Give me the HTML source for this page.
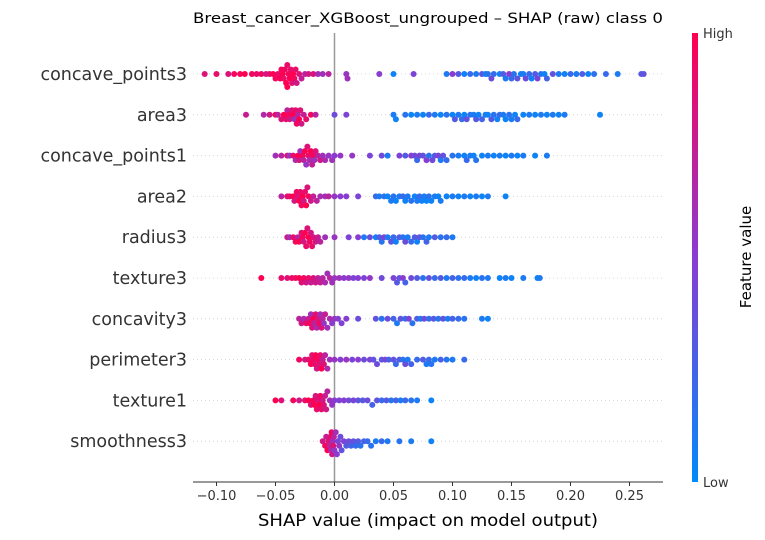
<!DOCTYPE html>
<html><head><meta charset="utf-8">
<style>
body{margin:0;background:#fff;}
svg{display:block;font-family:"DejaVu Sans","Liberation Sans",sans-serif;}
</style></head>
<body>
<svg id="chart" width="765" height="540" viewBox="0 0 765 540">
<defs>
<linearGradient id="cbg" x1="0" y1="1" x2="0" y2="0">
<stop offset="0" stop-color="#008afb"/>
<stop offset="0.5" stop-color="#8a3cd2"/>
<stop offset="1" stop-color="#ff0051"/>
</linearGradient>
</defs>
<text x="428" y="23" text-anchor="middle" font-size="14" fill="#000" textLength="470" lengthAdjust="spacingAndGlyphs">Breast_cancer_XGBoost_ungrouped – SHAP (raw) class 0</text>
<g id="grid"></g>
<line x1="334.5" y1="33" x2="334.5" y2="482" stroke="#999" stroke-width="1.5"/>
<g id="dots"></g>
<g id="labels"></g>
<line x1="193" y1="482" x2="663" y2="482" stroke="#333" stroke-width="1"/>
<g id="ticks"></g>
<text x="428" y="526" text-anchor="middle" font-size="17" fill="#000" textLength="340" lengthAdjust="spacingAndGlyphs">SHAP value (impact on model output)</text>
<rect x="692" y="33" width="6" height="449" fill="url(#cbg)"/>
<text x="703" y="38" font-size="13" fill="#333">High</text>
<text x="703" y="487" font-size="13" fill="#333">Low</text>
<text transform="translate(751,257) rotate(-90)" text-anchor="middle" font-size="15" fill="#000">Feature value</text>
</svg>
<script>
const features = ["concave_points3","area3","concave_points1","area2","radius3","texture3","concavity3","perimeter3","texture1","smoothness3"];
const tickValues = [-0.10,-0.05,0.00,0.05,0.10,0.15,0.20,0.25];
const tickLabels = ["\u22120.10","\u22120.05","0.00","0.05","0.10","0.15","0.20","0.25"];
const shap0 = [-0.11,-0.10,-0.09,-0.085,-0.08,-0.076,-0.07,-0.066,-0.062,-0.058,-0.055,-0.052,-0.05,-0.048,-0.046,-0.045,-0.044,-0.043,-0.042,-0.041,-0.04,-0.04,-0.039,-0.038,-0.037,-0.036,-0.035,-0.034,-0.033,-0.032,-0.03,-0.028,-0.025,-0.022,-0.018,-0.014,-0.01,-0.005,0.01,0.011,0.038,0.05,0.067,0.095,0.1,0.105,0.11,0.115,0.12,0.125,0.128,0.13,0.133,0.135,0.14,0.143,0.145,0.148,0.15,0.152,0.155,0.158,0.16,0.162,0.165,0.167,0.17,0.172,0.175,0.178,0.18,0.185,0.19,0.195,0.2,0.205,0.21,0.215,0.22,0.23,0.24,0.26,0.262];
const feat0 = [0.85,0.9,0.85,0.95,0.95,1,0.95,0.9,0.95,0.8,0.9,1,0.95,0.9,1,0.95,1,0.9,0.95,1,0.9,1,0.95,1,0.9,0.85,1,0.95,0.9,0.8,0.85,0.75,0.7,0.8,0.85,0.6,0.6,0.7,0.55,0.6,0.5,0.05,0.45,0.1,0.5,0.3,0.05,0.2,0.1,0.35,0.05,0.15,0.4,0.2,0.05,0.3,0.1,0.5,0.2,0.15,0.35,0.05,0.1,0.4,0.2,0.05,0.3,0.45,0.15,0.05,0.25,0.35,0.1,0.05,0.2,0.1,0.3,0.05,0.15,0.2,0.1,0.3,0.35];
const shap1 = [-0.075,-0.06,-0.055,-0.05,-0.048,-0.045,-0.043,-0.041,-0.04,-0.039,-0.038,-0.036,-0.035,-0.034,-0.033,-0.032,-0.031,-0.03,-0.029,-0.028,-0.026,-0.024,-0.02,-0.016,0.0,0.01,0.05,0.052,0.06,0.065,0.07,0.075,0.08,0.085,0.09,0.095,0.1,0.102,0.105,0.108,0.11,0.112,0.115,0.118,0.12,0.122,0.125,0.128,0.13,0.133,0.135,0.138,0.14,0.143,0.145,0.148,0.15,0.153,0.155,0.16,0.165,0.17,0.175,0.18,0.185,0.19,0.195,0.225];
const feat1 = [0.75,0.65,0.8,0.95,0.7,0.85,1,0.9,0.7,0.95,0.8,0.85,1,0.6,0.9,0.95,0.7,1,0.85,0.8,0.75,0.9,0.95,0.7,0.4,0.45,0.1,0.05,0.15,0.05,0.1,0.05,0.2,0.1,0.05,0.15,0.05,0.3,0.1,0.2,0.05,0.35,0.15,0.1,0.3,0.05,0.25,0.1,0.05,0.3,0.15,0.05,0.2,0.1,0.05,0.15,0.1,0.05,0.2,0.05,0.1,0.05,0.1,0.05,0.1,0.05,0.1,0.05];
const shap2 = [-0.05,-0.045,-0.04,-0.038,-0.035,-0.033,-0.031,-0.03,-0.029,-0.027,-0.026,-0.025,-0.024,-0.023,-0.022,-0.021,-0.02,-0.019,-0.018,-0.017,-0.016,-0.014,-0.012,-0.01,-0.008,-0.005,-0.002,0.0,0.005,0.015,0.03,0.04,0.045,0.055,0.06,0.065,0.068,0.07,0.072,0.075,0.078,0.08,0.083,0.085,0.088,0.09,0.092,0.095,0.1,0.105,0.11,0.112,0.115,0.118,0.12,0.125,0.13,0.135,0.14,0.145,0.15,0.155,0.16,0.17,0.18];
const feat2 = [0.6,0.7,0.85,0.55,0.9,0.65,1,0.8,0.6,0.95,0.7,1,0.55,0.85,0.9,0.65,1,0.75,0.95,0.6,0.85,0.7,0.8,0.6,0.65,0.55,0.6,0.5,0.55,0.55,0.45,0.4,0.1,0.45,0.3,0.5,0.4,0.2,0.45,0.35,0.5,0.15,0.4,0.3,0.45,0.1,0.35,0.2,0.15,0.1,0.05,0.2,0.1,0.05,0.15,0.05,0.1,0.05,0.1,0.05,0.1,0.05,0.1,0.05,0.1];
const shap3 = [-0.045,-0.04,-0.038,-0.035,-0.034,-0.032,-0.031,-0.03,-0.029,-0.028,-0.027,-0.026,-0.025,-0.024,-0.023,-0.022,-0.02,-0.018,-0.015,-0.012,-0.008,-0.005,0.0,0.005,0.01,0.02,0.035,0.038,0.042,0.045,0.048,0.05,0.052,0.055,0.058,0.06,0.062,0.065,0.068,0.07,0.072,0.074,0.076,0.078,0.08,0.082,0.085,0.088,0.09,0.095,0.1,0.105,0.11,0.115,0.12,0.125,0.13,0.145];
const feat3 = [0.7,0.85,0.9,1,0.8,0.95,0.85,1,0.9,0.95,1,0.8,0.9,1,0.85,0.95,0.8,0.75,0.7,0.65,0.6,0.7,0.55,0.5,0.5,0.45,0.2,0.1,0.15,0.05,0.1,0.15,0.05,0.1,0.2,0.05,0.1,0.15,0.05,0.1,0.2,0.05,0.1,0.05,0.15,0.05,0.1,0.05,0.1,0.05,0.1,0.05,0.1,0.05,0.1,0.05,0.1,0.05];
const shap4 = [-0.04,-0.038,-0.035,-0.033,-0.031,-0.03,-0.028,-0.027,-0.026,-0.025,-0.024,-0.023,-0.022,-0.021,-0.02,-0.019,-0.018,-0.016,-0.014,-0.012,-0.008,0.0,0.012,0.02,0.025,0.03,0.035,0.038,0.04,0.042,0.045,0.048,0.05,0.052,0.055,0.058,0.06,0.062,0.065,0.068,0.07,0.072,0.075,0.078,0.08,0.085,0.09,0.095,0.1];
const feat4 = [0.8,0.6,0.9,0.95,0.7,1,0.85,0.95,0.8,1,0.9,0.85,1,0.95,0.8,0.9,0.85,0.8,0.75,0.7,0.6,0.55,0.45,0.5,0.1,0.4,0.05,0.3,0.15,0.45,0.1,0.35,0.2,0.05,0.3,0.15,0.4,0.1,0.2,0.3,0.05,0.35,0.15,0.25,0.1,0.3,0.15,0.2,0.1];
const shap5 = [-0.062,-0.045,-0.04,-0.036,-0.033,-0.03,-0.028,-0.026,-0.024,-0.022,-0.02,-0.018,-0.016,-0.014,-0.012,-0.01,-0.008,-0.006,-0.004,-0.002,0.0,0.004,0.008,0.012,0.016,0.02,0.025,0.03,0.04,0.05,0.053,0.055,0.058,0.06,0.065,0.07,0.075,0.08,0.085,0.09,0.095,0.1,0.105,0.11,0.115,0.12,0.125,0.13,0.14,0.145,0.15,0.16,0.172,0.174];
const feat5 = [1,0.9,0.85,0.95,0.9,1,0.85,0.95,0.8,0.9,0.75,0.85,0.8,0.7,0.75,0.7,0.65,0.6,0.7,0.6,0.55,0.6,0.5,0.55,0.45,0.5,0.45,0.55,0.4,0.45,0.3,0.35,0.5,0.25,0.4,0.3,0.15,0.35,0.2,0.3,0.1,0.25,0.15,0.2,0.1,0.05,0.15,0.1,0.05,0.1,0.05,0.1,0.05,0.1];
const shap6 = [-0.03,-0.028,-0.026,-0.024,-0.022,-0.021,-0.02,-0.019,-0.018,-0.017,-0.016,-0.015,-0.014,-0.013,-0.012,-0.011,-0.01,-0.009,-0.008,-0.006,-0.004,-0.002,0.0,0.003,0.006,0.01,0.02,0.035,0.04,0.045,0.05,0.053,0.056,0.06,0.063,0.066,0.07,0.073,0.076,0.08,0.084,0.088,0.092,0.096,0.1,0.105,0.11,0.125,0.13];
const feat6 = [0.7,0.8,0.65,0.9,0.75,0.95,0.6,0.85,1,0.7,0.9,0.65,0.8,0.95,0.6,0.85,0.7,0.55,0.75,0.6,0.65,0.5,0.55,0.5,0.45,0.5,0.4,0.35,0.15,0.4,0.25,0.1,0.35,0.2,0.45,0.15,0.3,0.1,0.4,0.2,0.3,0.15,0.35,0.1,0.25,0.2,0.15,0.1,0.05];
const shap7 = [-0.03,-0.025,-0.022,-0.02,-0.019,-0.018,-0.017,-0.016,-0.015,-0.014,-0.013,-0.012,-0.011,-0.01,-0.009,-0.008,-0.006,-0.004,0.0,0.005,0.01,0.015,0.02,0.025,0.03,0.033,0.036,0.04,0.043,0.046,0.05,0.052,0.055,0.058,0.06,0.062,0.065,0.07,0.075,0.078,0.08,0.082,0.085,0.09,0.095,0.1,0.11];
const feat7 = [0.95,0.8,0.9,1,0.85,0.95,0.9,1,0.8,0.95,0.85,0.9,1,0.75,0.85,0.7,0.65,0.6,0.55,0.5,0.55,0.45,0.5,0.4,0.45,0.35,0.4,0.3,0.45,0.25,0.35,0.2,0.3,0.15,0.4,0.1,0.25,0.2,0.3,0.1,0.2,0.15,0.1,0.25,0.15,0.1,0.2];
const shap8 = [-0.05,-0.045,-0.035,-0.03,-0.025,-0.022,-0.02,-0.018,-0.017,-0.016,-0.015,-0.014,-0.013,-0.012,-0.011,-0.01,-0.009,-0.008,-0.007,-0.006,-0.004,-0.002,0.0,0.004,0.008,0.012,0.016,0.02,0.024,0.028,0.032,0.036,0.04,0.044,0.048,0.052,0.056,0.06,0.065,0.07,0.082];
const feat8 = [1,0.85,0.95,0.8,0.9,1,0.85,0.95,1,0.8,0.9,0.85,1,0.95,0.9,0.8,0.85,0.75,0.8,0.7,0.6,0.55,0.5,0.45,0.5,0.4,0.45,0.35,0.3,0.4,0.25,0.35,0.2,0.3,0.15,0.25,0.1,0.2,0.15,0.1,0.05];
const shap9 = [-0.01,-0.008,-0.007,-0.006,-0.005,-0.004,-0.0035,-0.003,-0.0025,-0.002,-0.0015,-0.001,-0.0005,0.0,0.001,0.002,0.003,0.004,0.005,0.006,0.008,0.01,0.012,0.014,0.016,0.018,0.02,0.022,0.025,0.028,0.031,0.035,0.04,0.045,0.055,0.065,0.082];
const feat9 = [0.8,0.95,0.75,1,0.85,0.7,0.9,0.65,0.95,0.8,0.6,0.85,0.7,0.55,0.6,0.5,0.45,0.55,0.4,0.35,0.45,0.3,0.4,0.25,0.35,0.2,0.3,0.15,0.25,0.2,0.15,0.1,0.2,0.1,0.15,0.1,0.05];
const shapVals = [shap0,shap1,shap2,shap3,shap4,shap5,shap6,shap7,shap8,shap9];
const featVals = [feat0,feat1,feat2,feat3,feat4,feat5,feat6,feat7,feat8,feat9];

const NS="http://www.w3.org/2000/svg";
const xScale = v => 334.5 + v*1180;
const yRow = i => 74 + i*40.8;
function colorOf(t){
  const stops=[[0,[0,138,251]],[0.5,[138,60,210]],[1,[255,0,81]]];
  let a=stops[0],b=stops[1];
  if(t>0.5){a=stops[1];b=stops[2];}
  const u=(t-a[0])/(b[0]-a[0]);
  const c=a[1].map((v,k)=>Math.round(v+(b[1][k]-v)*u));
  return `rgb(${c[0]},${c[1]},${c[2]})`;
}
const grid=document.getElementById('grid'),dots=document.getElementById('dots'),labels=document.getElementById('labels'),ticks=document.getElementById('ticks');
features.forEach((f,i)=>{
  const y=yRow(i);
  const gl=document.createElementNS(NS,'line');
  gl.setAttribute('x1',193);gl.setAttribute('x2',663);gl.setAttribute('y1',y);gl.setAttribute('y2',y);
  gl.setAttribute('stroke','#ccc');gl.setAttribute('stroke-width','0.8');gl.setAttribute('stroke-dasharray','1,3');
  
  
  grid.appendChild(gl);
  const t=document.createElementNS(NS,'text');
  t.setAttribute('x',187);t.setAttribute('y',y+6);t.setAttribute('text-anchor','end');t.setAttribute('font-size','17.5');t.setAttribute('fill','#333');
  t.textContent=f;
  
  
  labels.appendChild(t);
  const vals=shapVals[i],fv=featVals[i];
  const idx=vals.map((v,k)=>k).sort((a,b)=>vals[a]-vals[b]);
  const bins={};
  idx.forEach(k=>{
    const px=xScale(vals[k]);
    const bin=Math.round(px/5);
    const n=bins[bin]||0;bins[bin]=n+1;
    const layer=Math.ceil(n/2)*(n%2?1:-1);
    const off=Math.max(-13,Math.min(13,layer*4.5));
    const c=document.createElementNS(NS,'circle');
    c.setAttribute('cx',px.toFixed(1));c.setAttribute('cy',(y+off).toFixed(1));c.setAttribute('r','3');
    c.setAttribute('fill',colorOf(fv[k]));
    
    
    dots.appendChild(c);
  });
});
tickValues.forEach((v,k)=>{
  const x=xScale(v);
  const l=document.createElementNS(NS,'line');
  l.setAttribute('x1',x);l.setAttribute('x2',x);l.setAttribute('y1',482);l.setAttribute('y2',486);l.setAttribute('stroke','#333');
  
  
  ticks.appendChild(l);
  const t=document.createElementNS(NS,'text');
  t.setAttribute('x',x);t.setAttribute('y',500);t.setAttribute('text-anchor','middle');t.setAttribute('font-size','13');t.setAttribute('fill','#333');
  t.textContent=tickLabels[k];
  
  
  ticks.appendChild(t);
});
</script>
</body></html>
